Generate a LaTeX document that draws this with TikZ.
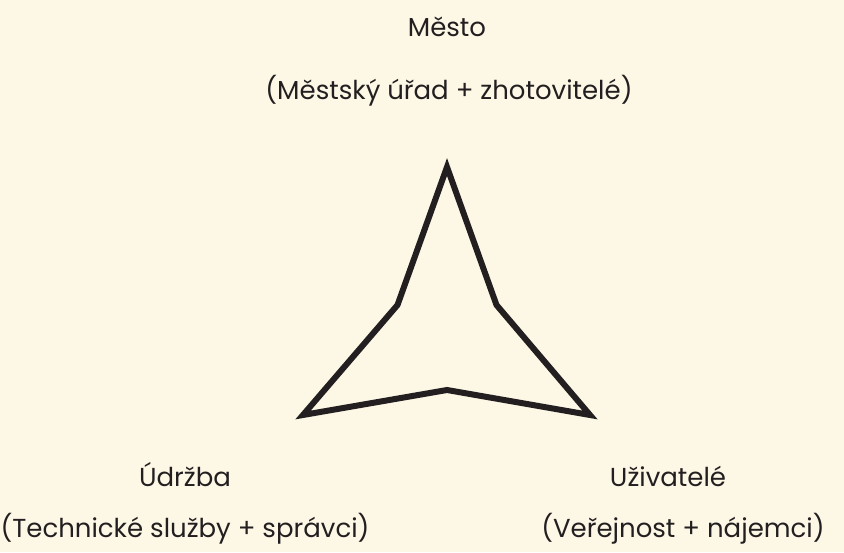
\documentclass[tikz,border=0pt]{standalone}
\usepackage{fontspec}
\setmainfont{Poppins}
\definecolor{paper}{HTML}{FDF8E6}
\definecolor{ink}{HTML}{231F20}
\begin{document}
\begin{tikzpicture}[x=1pt,y=1pt,
  label/.style={font=\fontsize{26}{30}\selectfont, text=ink, inner sep=0pt, anchor=base}]
  \fill[paper] (0,0) rectangle (844,552);
  \useasboundingbox (0,0) rectangle (844,552);
  % three-pointed star
  \coordinate (top) at (447,385);
  \coordinate (ri) at (496.5,247);
  \coordinate (br) at (590,137);
  \coordinate (bi) at (447,162);
  \coordinate (bl) at (303,137);
  \coordinate (li) at (397.5,247);
  \draw[ink, line width=6pt, line join=miter] (top) -- (ri) -- (br) -- (bi) -- (bl) -- (li) -- cycle;
  % labels
  \node[label] (mesto) at (447,515) {Město};
  \node[label] (mestoSub) at (449,452) {(Městský úřad + zhotovitelé)};
  \node[label] (udrzba) at (185,65) {Údržba};
  \node[label] (udrzbaSub) at (185,14) {(Technické služby + správci)};
  \node[label] (uziv) at (668,65) {Uživatelé};
  \node[label] (uzivSub) at (683,14) {(Veřejnost + nájemci)};
\end{tikzpicture}
\end{document}
